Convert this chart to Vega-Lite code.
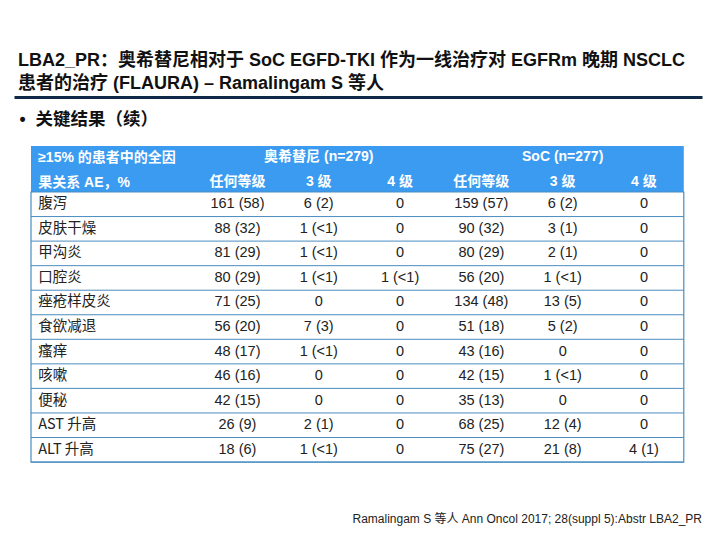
{
  "$schema": "https://vega.github.io/schema/vega-lite/v6.json",
  "width": 688,
  "height": 443,
  "autosize": {"type": "none"},
  "padding": {"left": 14, "top": 97, "right": 18, "bottom": 0},
  "background": "white",
  "title": {
    "text": ["LBA2_PR：奥希替尼相对于 SoC EGFD-TKI 作为一线治疗对 EGFRm 晚期 NSCLC", "患者的治疗 (FLAURA) – Ramalingam S 等人"],
    "anchor": "start",
    "frame": "group",
    "dx": 4,
    "offset": 4,
    "fontSize": 18,
    "fontWeight": "bold",
    "lineHeight": 23,
    "font": "Liberation Sans, Noto Sans CJK SC",
    "color": "#111111"
  },
  "config": {
    "view": {"stroke": null},
    "axis": {"domain": false, "ticks": false, "labels": false, "grid": false},
    "axisTop": {"domain": true, "domainColor": "#0E2A47", "domainWidth": 3}
  },
  "datasets": {
    "cells": [
      {"row": 1, "col": 0, "text": "腹泻"}, {"row": 1, "col": 1, "text": "161 (58)"}, {"row": 1, "col": 2, "text": "6 (2)"}, {"row": 1, "col": 3, "text": "0"}, {"row": 1, "col": 4, "text": "159 (57)"}, {"row": 1, "col": 5, "text": "6 (2)"}, {"row": 1, "col": 6, "text": "0"},
      {"row": 2, "col": 0, "text": "皮肤干燥"}, {"row": 2, "col": 1, "text": "88 (32)"}, {"row": 2, "col": 2, "text": "1 (<1)"}, {"row": 2, "col": 3, "text": "0"}, {"row": 2, "col": 4, "text": "90 (32)"}, {"row": 2, "col": 5, "text": "3 (1)"}, {"row": 2, "col": 6, "text": "0"},
      {"row": 3, "col": 0, "text": "甲沟炎"}, {"row": 3, "col": 1, "text": "81 (29)"}, {"row": 3, "col": 2, "text": "1 (<1)"}, {"row": 3, "col": 3, "text": "0"}, {"row": 3, "col": 4, "text": "80 (29)"}, {"row": 3, "col": 5, "text": "2 (1)"}, {"row": 3, "col": 6, "text": "0"},
      {"row": 4, "col": 0, "text": "口腔炎"}, {"row": 4, "col": 1, "text": "80 (29)"}, {"row": 4, "col": 2, "text": "1 (<1)"}, {"row": 4, "col": 3, "text": "1 (<1)"}, {"row": 4, "col": 4, "text": "56 (20)"}, {"row": 4, "col": 5, "text": "1 (<1)"}, {"row": 4, "col": 6, "text": "0"},
      {"row": 5, "col": 0, "text": "痤疮样皮炎"}, {"row": 5, "col": 1, "text": "71 (25)"}, {"row": 5, "col": 2, "text": "0"}, {"row": 5, "col": 3, "text": "0"}, {"row": 5, "col": 4, "text": "134 (48)"}, {"row": 5, "col": 5, "text": "13 (5)"}, {"row": 5, "col": 6, "text": "0"},
      {"row": 6, "col": 0, "text": "食欲减退"}, {"row": 6, "col": 1, "text": "56 (20)"}, {"row": 6, "col": 2, "text": "7 (3)"}, {"row": 6, "col": 3, "text": "0"}, {"row": 6, "col": 4, "text": "51 (18)"}, {"row": 6, "col": 5, "text": "5 (2)"}, {"row": 6, "col": 6, "text": "0"},
      {"row": 7, "col": 0, "text": "瘙痒"}, {"row": 7, "col": 1, "text": "48 (17)"}, {"row": 7, "col": 2, "text": "1 (<1)"}, {"row": 7, "col": 3, "text": "0"}, {"row": 7, "col": 4, "text": "43 (16)"}, {"row": 7, "col": 5, "text": "0"}, {"row": 7, "col": 6, "text": "0"},
      {"row": 8, "col": 0, "text": "咳嗽"}, {"row": 8, "col": 1, "text": "46 (16)"}, {"row": 8, "col": 2, "text": "0"}, {"row": 8, "col": 3, "text": "0"}, {"row": 8, "col": 4, "text": "42 (15)"}, {"row": 8, "col": 5, "text": "1 (<1)"}, {"row": 8, "col": 6, "text": "0"},
      {"row": 9, "col": 0, "text": "便秘"}, {"row": 9, "col": 1, "text": "42 (15)"}, {"row": 9, "col": 2, "text": "0"}, {"row": 9, "col": 3, "text": "0"}, {"row": 9, "col": 4, "text": "35 (13)"}, {"row": 9, "col": 5, "text": "0"}, {"row": 9, "col": 6, "text": "0"},
      {"row": 10, "col": 0, "text": "AST 升高"}, {"row": 10, "col": 1, "text": "26 (9)"}, {"row": 10, "col": 2, "text": "2 (1)"}, {"row": 10, "col": 3, "text": "0"}, {"row": 10, "col": 4, "text": "68 (25)"}, {"row": 10, "col": 5, "text": "12 (4)"}, {"row": 10, "col": 6, "text": "0"},
      {"row": 11, "col": 0, "text": "ALT 升高"}, {"row": 11, "col": 1, "text": "18 (6)"}, {"row": 11, "col": 2, "text": "1 (<1)"}, {"row": 11, "col": 3, "text": "0"}, {"row": 11, "col": 4, "text": "75 (27)"}, {"row": 11, "col": 5, "text": "21 (8)"}, {"row": 11, "col": 6, "text": "4 (1)"}
    ],
    "hdr": [
      {"row": -1, "col": 0, "text": "≥15% 的患者中的全因"},
      {"row": 0, "col": 0, "text": "果关系 AE，%"},
      {"row": -1, "col": 2, "text": "奥希替尼 (n=279)"},
      {"row": -1, "col": 5, "text": "SoC (n=277)"},
      {"row": 0, "col": 1, "text": "任何等级"},
      {"row": 0, "col": 2, "text": "3 级"},
      {"row": 0, "col": 3, "text": "4 级"},
      {"row": 0, "col": 4, "text": "任何等级"},
      {"row": 0, "col": 5, "text": "3 级"},
      {"row": 0, "col": 6, "text": "4 级"}
    ],
    "notes": [
      {"kind": "bullet", "text": "•\u00a0\u00a0关键结果（续）"},
      {"kind": "footnote", "text": "Ramalingam S 等人 Ann Oncol 2017; 28(suppl 5):Abstr LBA2_PR"}
    ]
  },
  "layer": [
    {
      "data": {"values": [{}]},
      "mark": {"type": "rect", "fill": "#3A9BF0"},
      "encoding": {
        "x": {"datum": -1.54, "type": "quantitative", "scale": {"domain": [-1.749, 6.714], "nice": false, "zero": false}, "axis": {"orient": "top", "title": null}},
        "x2": {"datum": 6.49},
        "y": {"datum": -1.37, "type": "quantitative", "scale": {"domain": [-3.369, 14.676], "reverse": true, "nice": false, "zero": false}, "axis": null},
        "y2": {"datum": 0.5}
      }
    },
    {
      "data": {"name": "cells"},
      "transform": [{"filter": "datum.col == 0"}],
      "mark": {"type": "rule", "stroke": "#4A8DBF", "strokeWidth": 1, "yOffset": 12.3},
      "encoding": {
        "x": {"datum": -1.54, "type": "quantitative", "axis": {"orient": "top", "title": null}},
        "x2": {"datum": 6.49},
        "y": {"field": "row", "type": "quantitative", "axis": null}
      }
    },
    {
      "data": {"values": [{}]},
      "mark": {"type": "rect", "fillOpacity": 0, "stroke": "#4A8DBF", "strokeWidth": 1.2},
      "encoding": {
        "x": {"datum": -1.54, "type": "quantitative", "axis": {"orient": "top", "title": null}},
        "x2": {"datum": 6.49},
        "y": {"datum": 0.5, "type": "quantitative", "axis": null},
        "y2": {"datum": 11.5}
      }
    },
    {
      "data": {"name": "cells"},
      "transform": [{"filter": "datum.col == 0"}],
      "mark": {"type": "text", "align": "left", "baseline": "middle", "dx": -118, "fontSize": 14.5, "font": "Noto Sans CJK SC, Liberation Sans", "color": "#222222"},
      "encoding": {
        "x": {"field": "col", "type": "quantitative", "axis": {"orient": "top", "title": null}},
        "y": {"field": "row", "type": "quantitative", "axis": null},
        "text": {"field": "text"}
      }
    },
    {
      "data": {"name": "cells"},
      "transform": [{"filter": "datum.col > 0"}],
      "mark": {"type": "text", "align": "center", "baseline": "middle", "fontSize": 14.5, "font": "Liberation Sans, Noto Sans CJK SC", "color": "#222222"},
      "encoding": {
        "x": {"field": "col", "type": "quantitative", "axis": {"orient": "top", "title": null}},
        "y": {"field": "row", "type": "quantitative", "axis": null},
        "text": {"field": "text"}
      }
    },
    {
      "data": {"name": "hdr"},
      "transform": [{"filter": "datum.col == 0"}],
      "mark": {"type": "text", "align": "left", "baseline": "middle", "dx": -118, "dy": 3, "fontSize": 14, "fontWeight": "bold", "font": "Liberation Sans, Noto Sans CJK SC", "color": "white"},
      "encoding": {
        "x": {"field": "col", "type": "quantitative", "axis": {"orient": "top", "title": null}},
        "y": {"field": "row", "type": "quantitative", "axis": null},
        "text": {"field": "text"}
      }
    },
    {
      "data": {"name": "hdr"},
      "transform": [{"filter": "datum.col > 0"}],
      "mark": {"type": "text", "align": "center", "baseline": "middle", "dy": 2, "fontSize": 14, "fontWeight": "bold", "font": "Liberation Sans, Noto Sans CJK SC", "color": "white"},
      "encoding": {
        "x": {"field": "col", "type": "quantitative", "axis": {"orient": "top", "title": null}},
        "y": {"field": "row", "type": "quantitative", "axis": null},
        "text": {"field": "text"}
      }
    },
    {
      "data": {"name": "notes"},
      "transform": [{"filter": "datum.kind == 'bullet'"}],
      "mark": {"type": "text", "align": "left", "baseline": "middle", "fontSize": 17.5, "fontWeight": "bold", "font": "Liberation Sans, Noto Sans CJK SC", "color": "#111111"},
      "encoding": {
        "x": {"datum": -1.68, "type": "quantitative", "axis": {"orient": "top", "title": null}},
        "y": {"datum": -2.43, "type": "quantitative", "axis": null},
        "text": {"field": "text"}
      }
    },
    {
      "data": {"name": "notes"},
      "transform": [{"filter": "datum.kind == 'footnote'"}],
      "mark": {"type": "text", "align": "right", "baseline": "middle", "fontSize": 12, "font": "Liberation Sans, Noto Sans CJK SC", "color": "#222222"},
      "encoding": {
        "x": {"datum": 6.714, "type": "quantitative", "axis": {"orient": "top", "title": null}},
        "y": {"datum": 13.82, "type": "quantitative", "axis": null},
        "text": {"field": "text"}
      }
    }
  ]
}
